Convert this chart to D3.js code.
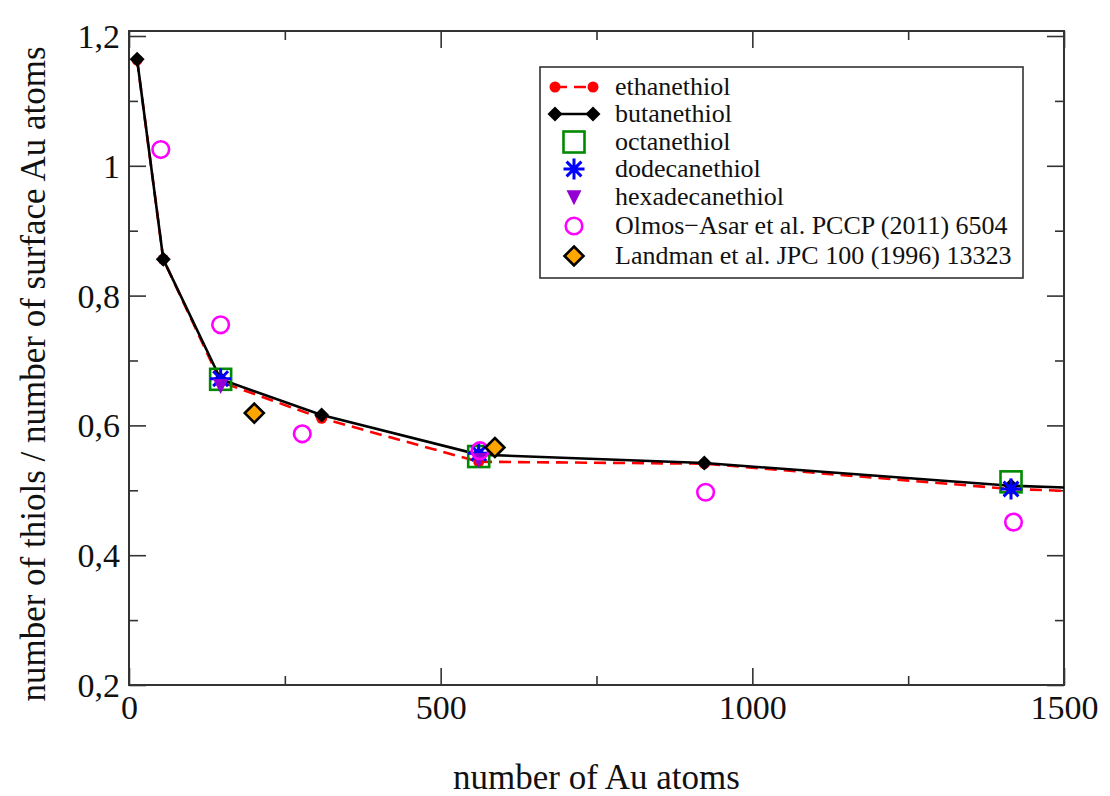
<!DOCTYPE html>
<html>
<head>
<meta charset="utf-8">
<script src="https://cdn.jsdelivr.net/npm/d3@7"></script>
<style>
  html, body { margin: 0; padding: 0; background: #fff; }
  svg { display: block; }
  text { font-family: "Liberation Serif", "Times New Roman", serif; fill: #111; }
</style>
</head>
<body>
<svg id="chart" width="1110" height="796"></svg>
<script>
// ---- data ----
const sizes = [13, 55, 147, 309, 561, 923, 1415, 2057];
const ethanethiol = [1.163, 0.856, 0.667, 0.611, 0.544, 0.541, 0.502, 0.481];
const butanethiol = [1.164, 0.856, 0.671, 0.616, 0.555, 0.542, 0.507, 0.487];
const octaneX = [147, 561, 1415];
const octanethiol = [0.671, 0.552, 0.513];
const dodecaneX = [147, 561, 1415];
const dodecanethiol = [0.672, 0.557, 0.502];
const hexadecaneX = [147, 561];
const hexadecanethiol = [0.661, 0.547];
const olmosX = [51, 147, 278, 563, 925, 1419];
const olmosY = [1.025, 0.755, 0.587, 0.561, 0.497, 0.451];
const landmanX = [201, 587];
const landmanY = [0.619, 0.566];
const xTicks = [0, 500, 1000, 1500];
const xMinor = [250, 750, 1250];
const yTicks = [0.2, 0.4, 0.6, 0.8, 1.0, 1.2];
const yMinor = [0.3, 0.5, 0.7, 0.9, 1.1];
const legendLabels = ["ethanethiol", "butanethiol", "octanethiol", "dodecanethiol",
  "hexadecanethiol", "Olmos\u2212Asar et al. PCCP (2011) 6504", "Landman et al. JPC 100 (1996) 13323"];

// ---- layout ----
const W = 1110, H = 796;
const m = { left: 129, top: 31, right: 46, bottom: 111 };
const iw = W - m.left - m.right, ih = H - m.top - m.bottom;
const svg = d3.select("#chart");
const x = d3.scaleLinear().domain([0, 1500]).range([m.left, m.left + iw]);
const y = d3.scaleLinear().domain([0.2, 1.2077]).range([m.top + ih, m.top]);

svg.append("defs").append("clipPath").attr("id", "clip")
  .append("rect").attr("x", m.left).attr("y", m.top).attr("width", iw).attr("height", ih);

const fmtY = v => { const s = d3.format(".1f")(v); return (s.endsWith(".0") ? s.slice(0, -2) : s).replace(".", ","); };

// axes (ticks inside, mirrored)
const frameColor = "#333";
const axB = d3.axisBottom(x).tickValues(xTicks).tickSize(-17).tickPadding(10).tickFormat(d3.format("d"));
const axT = d3.axisTop(x).tickValues(xTicks).tickSize(-17).tickFormat("");
const axL = d3.axisLeft(y).tickValues(yTicks).tickSize(-17).tickPadding(9).tickFormat(fmtY);
const axR = d3.axisRight(y).tickValues(yTicks).tickSize(-17).tickFormat("");
const axBm = d3.axisBottom(x).tickValues(xMinor).tickSize(-9).tickFormat("");
const axTm = d3.axisTop(x).tickValues(xMinor).tickSize(-9).tickFormat("");
const axLm = d3.axisLeft(y).tickValues(yMinor).tickSize(-9).tickFormat("");
const axRm = d3.axisRight(y).tickValues(yMinor).tickSize(-9).tickFormat("");

function styleAxis(g) {
  g.attr("font-family", "Liberation Serif");
  g.select(".domain").remove();
  g.selectAll(".tick line").attr("stroke", frameColor).attr("stroke-width", 1.6);
  g.selectAll(".tick text").attr("font-size", 34).attr("font-family", "Liberation Serif").attr("fill", "#111");
}
svg.append("g").attr("transform", `translate(0,${m.top + ih})`).call(axB).call(styleAxis);
svg.append("g").attr("transform", `translate(0,${m.top})`).call(axT).call(styleAxis);
svg.append("g").attr("transform", `translate(${m.left},0)`).call(axL).call(styleAxis)
  .selectAll(".tick text").attr("dy", "0.34em");
svg.append("g").attr("transform", `translate(${m.left + iw},0)`).call(axR).call(styleAxis);
svg.append("g").attr("transform", `translate(0,${m.top + ih})`).call(axBm).call(styleAxis);
svg.append("g").attr("transform", `translate(0,${m.top})`).call(axTm).call(styleAxis);
svg.append("g").attr("transform", `translate(${m.left},0)`).call(axLm).call(styleAxis);
svg.append("g").attr("transform", `translate(${m.left + iw},0)`).call(axRm).call(styleAxis);

svg.append("rect").attr("x", m.left).attr("y", m.top).attr("width", iw).attr("height", ih)
  .attr("fill", "none").attr("stroke", frameColor).attr("stroke-width", 2);

// axis titles
svg.append("text").attr("x", m.left + iw / 2).attr("y", 789).attr("text-anchor", "middle")
  .attr("font-size", 35).text("number of Au atoms");
svg.append("text").attr("transform", `translate(45,${m.top + ih / 2 + 16}) rotate(-90)`)
  .attr("text-anchor", "middle").attr("font-size", 35)
  .text("number of thiols / number of surface Au atoms");

// ---- marks ----
const plot = svg.append("g").attr("clip-path", "url(#clip)");
const line = d3.line().x(d => x(d[0])).y(d => y(d[1]));
const ethPts = sizes.map((s, i) => [s, ethanethiol[i]]);
const butPts = sizes.map((s, i) => [s, butanethiol[i]]);

const diamond = (r) => `M0,${-r}L${r},0L0,${r}L${-r},0Z`;
const triDown = (w) => `M${-w / 2},${-w * 0.45}L${w / 2},${-w * 0.45}L0,${w * 0.55}Z`;
const star = (r) => {
  let p = "";
  for (let k = 0; k < 4; k++) {
    const a = k * Math.PI / 4;
    p += `M${r * Math.sin(a)},${-r * Math.cos(a)}L${-r * Math.sin(a)},${r * Math.cos(a)}`;
  }
  return p;
};

// ethanethiol
plot.append("path").datum(ethPts).attr("d", line).attr("fill", "none")
  .attr("stroke", "#ff0000").attr("stroke-width", 2.6).attr("stroke-dasharray", "12,7");
plot.selectAll(".eth").data(ethPts).join("circle").attr("cx", d => x(d[0])).attr("cy", d => y(d[1]))
  .attr("r", 5.5).attr("fill", "#ff0000");
// butanethiol
plot.append("path").datum(butPts).attr("d", line).attr("fill", "none")
  .attr("stroke", "#000").attr("stroke-width", 2.6);
plot.selectAll(".but").data(butPts).join("path")
  .attr("transform", d => `translate(${x(d[0])},${y(d[1])})`).attr("d", diamond(7.5)).attr("fill", "#000");
// octanethiol
plot.selectAll(".oct").data(octaneX.map((s, i) => [s, octanethiol[i]])).join("rect")
  .attr("x", d => x(d[0]) - 10.5).attr("y", d => y(d[1]) - 10.5).attr("width", 21).attr("height", 21)
  .attr("fill", "none").attr("stroke", "#008a00").attr("stroke-width", 2.6);
// dodecanethiol
plot.selectAll(".dod").data(dodecaneX.map((s, i) => [s, dodecanethiol[i]])).join("path")
  .attr("transform", d => `translate(${x(d[0])},${y(d[1])})`).attr("d", star(10.5))
  .attr("fill", "none").attr("stroke", "#0000ff").attr("stroke-width", 3);
// hexadecanethiol
plot.selectAll(".hex").data(hexadecaneX.map((s, i) => [s, hexadecanethiol[i]])).join("path")
  .attr("transform", d => `translate(${x(d[0])},${y(d[1])})`).attr("d", triDown(15)).attr("fill", "#9400d3");
// Olmos-Asar
plot.selectAll(".olm").data(olmosX.map((s, i) => [s, olmosY[i]])).join("circle")
  .attr("cx", d => x(d[0])).attr("cy", d => y(d[1])).attr("r", 8.3)
  .attr("fill", "none").attr("stroke", "#ff00ff").attr("stroke-width", 2.6);
// Landman
plot.selectAll(".lan").data(landmanX.map((s, i) => [s, landmanY[i]])).join("path")
  .attr("transform", d => `translate(${x(d[0])},${y(d[1])})`).attr("d", diamond(9.5))
  .attr("fill", "#ffa500").attr("stroke", "#000").attr("stroke-width", 2.6);

// ---- legend ----
const lg = svg.append("g");
lg.append("rect").attr("x", 540).attr("y", 67).attr("width", 483).attr("height", 211)
  .attr("fill", "#fff").attr("stroke", frameColor).attr("stroke-width", 1.6);
const rowY = [87, 114, 142, 169, 197, 226, 256];
const sx = 574, tx = 615;
legendLabels.forEach((lab, i) => {
  lg.append("text").attr("x", tx).attr("y", rowY[i] + 8).attr("font-size", 26).text(lab);
});
// row 0
lg.append("line").attr("x1", 555).attr("x2", 593).attr("y1", rowY[0]).attr("y2", rowY[0])
  .attr("stroke", "#ff0000").attr("stroke-width", 2.6).attr("stroke-dasharray", "12,7");
[555, 593].forEach(px => lg.append("circle").attr("cx", px).attr("cy", rowY[0]).attr("r", 5.5).attr("fill", "#ff0000"));
// row 1
lg.append("line").attr("x1", 555).attr("x2", 593).attr("y1", rowY[1]).attr("y2", rowY[1])
  .attr("stroke", "#000").attr("stroke-width", 2.6);
[555, 593].forEach(px => lg.append("path").attr("transform", `translate(${px},${rowY[1]})`).attr("d", diamond(7.5)).attr("fill", "#000"));
// row 2
lg.append("rect").attr("x", sx - 10.5).attr("y", rowY[2] - 10.5).attr("width", 21).attr("height", 21)
  .attr("fill", "none").attr("stroke", "#008a00").attr("stroke-width", 2.6);
// row 3
lg.append("path").attr("transform", `translate(${sx},${rowY[3]})`).attr("d", star(10.5))
  .attr("fill", "none").attr("stroke", "#0000ff").attr("stroke-width", 3);
// row 4
lg.append("path").attr("transform", `translate(${sx},${rowY[4]})`).attr("d", triDown(15)).attr("fill", "#9400d3");
// row 5
lg.append("circle").attr("cx", sx).attr("cy", rowY[5]).attr("r", 8.3)
  .attr("fill", "none").attr("stroke", "#ff00ff").attr("stroke-width", 2.6);
// row 6
lg.append("path").attr("transform", `translate(${sx},${rowY[6]})`).attr("d", diamond(9.5))
  .attr("fill", "#ffa500").attr("stroke", "#000").attr("stroke-width", 2.6);
</script>
</body>
</html>
